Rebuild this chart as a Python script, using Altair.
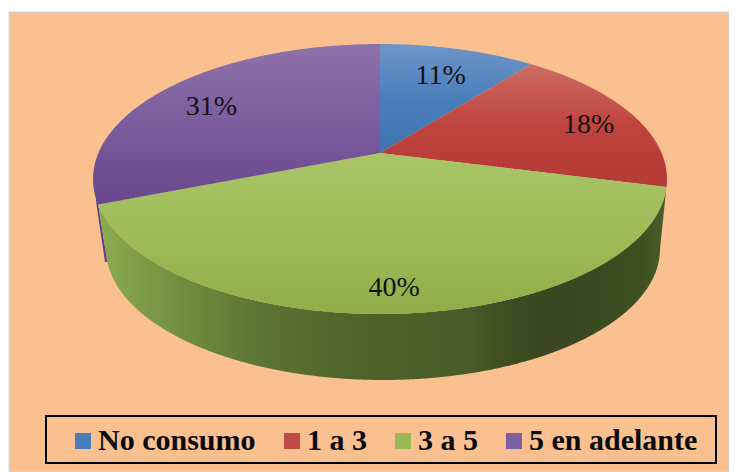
import numpy as np
import pandas as pd
import altair as alt

# ---- chart values ----
categories = ["No consumo", "1 a 3", "3 a 5", "5 en adelante"]
shares = [10.6, 18.4, 40, 31]
label_texts = ["11%", "18%", "40%", "31%"]
label_radius = [0.72, 0.81, 0.86, 0.75]
label_turn = [0.7, 1.7, 0.8, -3.2]
legend_colors = ["#4a7ebb", "#be4b48", "#98b954", "#7d60a0"]
top_stops = [
    ["#6f96c8", "#4a7ebb", "#3f72ae"],
    ["#cb6d63", "#bf433f", "#b43a36"],
    ["#a8c668", "#9ebc58", "#8fae49"],
    ["#8f72aa", "#7b5c9d", "#68478c"],
]
wall_stops = [(99, "#8dac4f"), (180, "#728f3f"), (250, "#5e7734"), (360, "#4e6329"),
              (470, "#4a5c2a"), (500, "#3f4f21"), (550, "#394620"), (640, "#3d4f20"), (667, "#4a5f26")]

# ---- pie geometry (screen units, perspective view of a disc) ----
CX, CY, A, B, P = 380.0, 153.0, 281.6, 130.0, 0.1926
W, H = 721, 464


def disc(theta, r=1.0):
    u, v = r * np.sin(theta), r * np.cos(theta)
    d = 1 + P * v
    return CX + A * u / d, CY - B * v / d


def band(poly, name):
    """Turn an outline that is single-valued in x into x / y / y2 rows for an area mark."""
    poly = np.asarray(poly, dtype=float)
    xs = np.unique(np.concatenate([np.arange(np.ceil(poly[:, 0].min()), poly[:, 0].max(), 1.0), poly[:, 0]]))
    a, b = poly, np.roll(poly, -1, axis=0)
    rows = []
    for x in xs:
        ys = []
        for (x0, y0), (x1, y1) in zip(a, b):
            if min(x0, x1) - 1e-9 <= x <= max(x0, x1) + 1e-9:
                if abs(x1 - x0) < 1e-9:
                    ys += [y0, y1]
                else:
                    ys.append(y0 + (y1 - y0) * (x - x0) / (x1 - x0))
        if ys:
            rows.append({"x": float(x), "y": float(min(ys)), "y2": float(max(ys)), "part": name})
    return pd.DataFrame(rows)


fractions = np.cumsum([0] + shares) / sum(shares)
angles = fractions * 2 * np.pi

xsc = alt.Scale(domain=[8, 8 + W], range=[0, W], nice=False, zero=False)
ysc = alt.Scale(domain=[8, 8 + H], range=[0, H], nice=False, zero=False)
X = alt.X("x:Q", scale=xsc, axis=None)
Y = alt.Y("y:Q", scale=ysc, axis=None)


def area_layer(df, fill):
    return alt.Chart(df).mark_area(fill=fill, stroke=None, clip=False, interpolate="linear").encode(
        x=X, y=Y, y2="y2:Q")


def v_gradient(stops):
    return alt.Gradient(gradient="linear", x1=0, y1=0, x2=0, y2=1,
                        stops=[alt.GradientStop(color=c, offset=i / (len(stops) - 1)) for i, c in enumerate(stops)])


# frame and legend box
frame = pd.DataFrame([{"x": 9, "x2": 729, "y": 12, "y2": 472}])
bg = alt.Chart(frame).mark_rect(fill="#FAC090", stroke="#c6d9f1", strokeWidth=1).encode(
    x=X, x2="x2:Q", y=Y, y2="y2:Q")
box = pd.DataFrame([{"x": 46, "x2": 716, "y": 416, "y2": 463}])
legend_box = alt.Chart(box).mark_rect(fill="#FAC090", stroke="black", strokeWidth=2).encode(
    x=X, x2="x2:Q", y=Y, y2="y2:Q")

# side wall
BCX, BCY, BA, BB = 383.0, 249.0, 277.0, 131.0
th = np.linspace(angles[2], angles[3], 240)
rim = np.column_stack(disc(th))
t2 = np.linspace(np.radians(5.7), np.pi, 200)
low = np.column_stack([BCX - BA * np.cos(t2), BCY + BB * np.sin(t2)])
wall_poly = np.vstack([rim, low])
x0, x1 = wall_stops[0][0], wall_stops[-1][0]
wall_fill = alt.Gradient(gradient="linear", x1=0, y1=0, x2=1, y2=0,
                         stops=[alt.GradientStop(color=c, offset=(x - x0) / (x1 - x0)) for x, c in wall_stops])
wall = area_layer(band(wall_poly, "wall"), wall_fill)
sliver_poly = [(94, 180), (96.5, 205), (105, 262), (107.5, 262), (disc(angles[3])[0], disc(angles[3])[1])]
sliver = area_layer(band(sliver_poly, "sliver"), "#5f4585")

# top surface
tops = []
for i in range(len(shares)):
    t = np.linspace(angles[i], angles[i + 1], 160)
    poly = np.vstack([[[CX, CY]], np.column_stack(disc(t))])
    tops.append(area_layer(band(poly, categories[i]), v_gradient(top_stops[i])))

# value labels
mids = (angles[:-1] + angles[1:]) / 2 + np.radians(label_turn)
lx, ly = disc(mids, np.array(label_radius))
labels_df = pd.DataFrame({"x": lx, "y": ly, "t": label_texts})
labels = alt.Chart(labels_df).mark_text(font="Liberation Serif", fontSize=28, color="#111111",
                                        baseline="middle", align="center", dy=1).encode(x=X, y=Y, text="t:N")

# legend carrier
leg_df = pd.DataFrame({"Categoria": categories})
legend_layer = alt.Chart(leg_df).mark_square(opacity=0, size=1).encode(
    x=alt.value(0), y=alt.value(0),
    color=alt.Color("Categoria:N",
                    scale=alt.Scale(domain=categories, range=legend_colors),
                    legend=alt.Legend(title=None, orient="none", legendX=60, legendY=418,
                                      direction="horizontal", columns=4, symbolType="square",
                                      symbolSize=256, symbolOpacity=1, symbolStrokeWidth=0,
                                      labelFont="Liberation Serif", labelFontSize=30,
                                      labelFontWeight="bold", labelColor="#0a0a0a",
                                      labelLimit=400, labelOffset=0, columnPadding=21, padding=0,
                                      labelOverlap=False)))

chart = alt.layer(bg, legend_box, sliver, wall, *tops, labels, legend_layer).properties(
    width=W, height=H, padding=0, background="white",
    autosize=alt.AutoSizeParams(type="none", contains="padding")
).configure_view(stroke=None)

chart.save("out.html", embed_options={"renderer": "svg", "actions": False})
